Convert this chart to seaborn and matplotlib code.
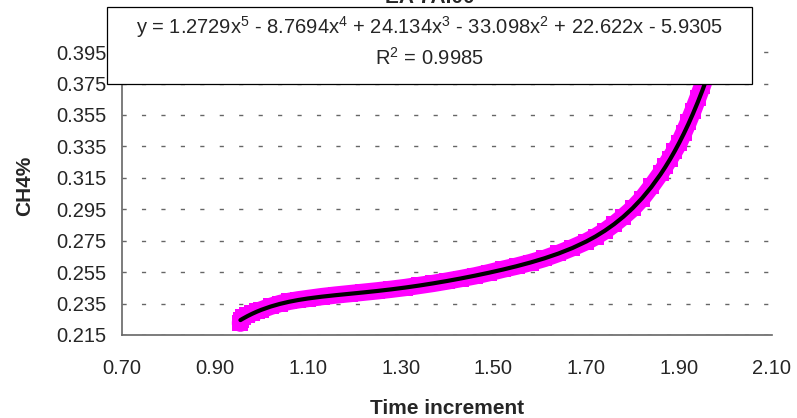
# CH4% vs time increment with 5th order polynomial trendline
import numpy as np
import pandas as pd
import matplotlib
matplotlib.use("Agg")
import matplotlib.pyplot as plt
from matplotlib.patches import Rectangle
import seaborn as sns

# %%
# data
time_x = [0.955, 0.956, 0.96, 0.97, 0.98, 0.99, 1.00, 1.02, 1.04, 1.06, 1.08, 1.10,
          1.13, 1.16, 1.19, 1.22, 1.25, 1.28, 1.31, 1.34, 1.37, 1.40, 1.43, 1.46,
          1.49, 1.52, 1.55, 1.58, 1.61, 1.64, 1.67, 1.70, 1.72, 1.74, 1.76, 1.78,
          1.80, 1.82, 1.84, 1.86, 1.87, 1.88, 1.89, 1.90, 1.91, 1.92, 1.93, 1.94,
          1.95, 1.96, 1.97, 1.98]
ch4_y = [0.2225, 0.2245, 0.2262, 0.2275, 0.2288, 0.2300, 0.2310, 0.2332, 0.2350,
         0.2364, 0.2374, 0.2382, 0.2394, 0.2404, 0.2413, 0.2422, 0.2431, 0.2441,
         0.2452, 0.2465, 0.2478, 0.2493, 0.2509, 0.2526, 0.2546, 0.2568, 0.2588,
         0.2611, 0.2637, 0.2669, 0.2705, 0.2744, 0.2775, 0.2812, 0.2855, 0.2903,
         0.2955, 0.3018, 0.3095, 0.3178, 0.3225, 0.3272, 0.3320, 0.3372, 0.3437,
         0.3505, 0.3578, 0.3655, 0.3735, 0.3820, 0.3910, 0.4000]

# trendline coefficients shown on the chart (x^5 ... x^0)
trend_coef = [1.2729, -8.7694, 24.134, -33.098, 22.622, -5.9305]
r_squared = 0.9985

x_ticks = [0.70, 0.90, 1.10, 1.30, 1.50, 1.70, 1.90, 2.10]
y_ticks = [0.215, 0.235, 0.255, 0.275, 0.295, 0.315, 0.335, 0.355, 0.375, 0.395]

df = pd.DataFrame({"time": time_x, "ch4": ch4_y})
df["trend"] = np.polyval(trend_coef, df["time"])

# %%
sns.set_style("white")
plt.rcParams["font.family"] = ["Liberation Sans", "DejaVu Sans"]
plt.rcParams["mathtext.fontset"] = "custom"
plt.rcParams["mathtext.rm"] = "Liberation Sans"
plt.rcParams["mathtext.default"] = "regular"

fig = plt.figure(figsize=(7.97, 4.18), dpi=100)
ax = fig.add_axes([0.1531, 0.1986, 0.8155, 0.7144])

sns.lineplot(data=df, x="time", y="ch4", ax=ax, color="#FF00FF", linewidth=12.5,
             marker="s", markersize=12, markeredgewidth=0, sort=False, zorder=2)
sns.lineplot(data=df, x="time", y="trend", ax=ax, color="black", linewidth=3,
             sort=False, zorder=3)

ax.set_xlim(0.70, 2.10)
ax.set_ylim(0.215, 0.405)
ax.set_xticks(x_ticks)
ax.set_xticklabels([f"{v:.2f}" for v in x_ticks])
ax.set_yticks(y_ticks)
ax.set_yticklabels([f"{v:.3f}" for v in y_ticks])
ax.tick_params(axis="x", direction="inout", length=8, width=0.8, color="#333333",
               labelsize=14.5, pad=13)
ax.tick_params(axis="y", direction="out", length=5, width=0.8, color="#333333",
               labelsize=14.5, pad=6)
ax.yaxis.grid(True, color="#666666", linestyle=(0, (3, 11)), linewidth=1)
ax.xaxis.grid(False)
ax.set_xlabel("")
ax.set_ylabel("")
for side in ["top", "right"]:
    ax.spines[side].set_visible(False)
for side in ["left", "bottom"]:
    ax.spines[side].set_color("#666666")
    ax.spines[side].set_linewidth(1.2)

fig.text(0.561, 0.022, "Time increment", ha="center", va="center",
         fontsize=15, fontweight="bold")
fig.text(0.031, 0.555, "CH4%", ha="center", va="center", rotation=90,
         fontsize=15, fontweight="bold")

# chart title, mostly pushed off the top edge (as in the original)
fig.text(0.539, 0.993, "EA 7A.00", ha="center", va="baseline",
         fontsize=15, fontweight="bold")

# trendline label box
fig.add_artist(Rectangle((0.1343, 0.799), 0.8092, 0.184, transform=fig.transFigure,
                         facecolor="white", edgecolor="black", linewidth=0.9,
                         zorder=10))
eq = ("y = 1.2729x$^5$ - 8.7694x$^4$ + 24.134x$^3$ - 33.098x$^2$"
      " + 22.622x - 5.9305")
t1 = fig.text(0.539, 0.935, eq, ha="center", va="center", fontsize=14.5)
t2 = fig.text(0.539, 0.861, f"R$^2$ = {r_squared}", ha="center", va="center",
              fontsize=14.5)
t1.set_zorder(11)
t2.set_zorder(11)

fig.savefig("out.png", dpi=100)
